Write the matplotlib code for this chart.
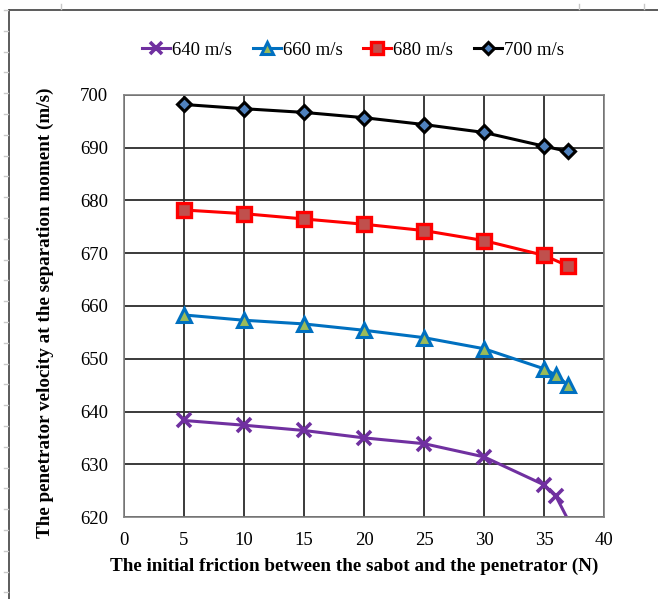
import matplotlib
matplotlib.use("Agg")
import matplotlib.pyplot as plt
from matplotlib.lines import Line2D

friction_a = [5, 10, 15, 20, 25, 30, 35, 36, 37]
friction_b = [5, 10, 15, 20, 25, 30, 35, 37]

v640 = [638.3, 637.4, 636.4, 635.0, 633.9, 631.4, 626.1, 623.9, 619.5]
v660 = [658.3, 657.3, 656.6, 655.4, 654.0, 651.9, 648.1, 646.9, 645.0]
v680 = [678.2, 677.5, 676.5, 675.5, 674.3, 672.4, 669.6, 667.6]
v700 = [698.2, 697.4, 696.7, 695.7, 694.4, 692.9, 690.3, 689.3]

labels = ["640 m/s", "660 m/s", "680 m/s", "700 m/s"]
x_ticks = list(range(0, 41, 5))
y_ticks = list(range(620, 701, 10))
y_min, y_max = 620, 700

plt.rcParams["font.family"] = ["Liberation Serif", "DejaVu Serif"]

fig = plt.figure(figsize=(6.58, 5.99), dpi=100)
ax = fig.add_axes([124 / 658, 1 - 517 / 599, 480 / 658, 422 / 599])

# markers only where the point lies inside the value range
in_range = [i for i, v in enumerate(v640) if v >= y_min]
ax.plot(friction_a, v640, color="#7030A0", lw=2.2, marker="x", ms=10,
        mew=2.6, markevery=in_range, label=labels[0])
ax.plot(friction_a, v660, color="#0070C0", lw=2.2, marker="^", ms=10,
        mfc="#9BBB59", mec="#0070C0", mew=2.2, label=labels[1], clip_on=False)
ax.plot(friction_b, v680, color="#FF0000", lw=2.2, marker="s", ms=10,
        mfc="#C0504D", mec="#FF0000", mew=2.4, label=labels[2], clip_on=False)
ax.plot(friction_b, v700, color="#000000", lw=2.2, marker="D", ms=7.5,
        mfc="#4F81BD", mec="#000000", mew=2.2, label=labels[3], clip_on=False)

ax.set_xlim(0, 40)
ax.set_ylim(y_min, y_max)
ax.set_xticks(x_ticks)
ax.set_yticks(y_ticks)
ax.tick_params(axis="both", length=0, labelsize=13.5, colors="#000000")
ax.tick_params(axis="y", pad=11.5)
ax.tick_params(axis="x", pad=11)
ax.grid(True, color="#2b2b2b", lw=1.3)
ax.set_axisbelow(True)
for s in ax.spines.values():
    s.set_color("#808080")
    s.set_linewidth(1.2)

ax.set_xlabel("The initial friction between the sabot and the penetrator (N)",
              fontsize=13.8, fontweight="bold")
ax.xaxis.set_label_coords((354 - 124) / 480, -(558 - 517) / 422)
ax.set_ylabel("The penetrator velocity at the separation moment (m/s)",
              fontsize=13.8, fontweight="bold")
ax.yaxis.set_label_coords(-(124 - 54) / 480, (517 - 313) / 422)

handles, lbls = ax.get_legend_handles_labels()
fig.legend(handles, lbls, loc="center", bbox_to_anchor=(353 / 658, 1 - 50 / 599),
           ncol=4, frameon=False, fontsize=13.5, handlelength=1.5,
           handletextpad=0.1, columnspacing=1.1, markerscale=0.85)

# outer chart frame (left and top edges) with small ruler ticks
frame_kw = dict(transform=fig.transFigure, color="#404040", lw=1.2)
fig.add_artist(Line2D([8.5 / 658, 8.5 / 658], [0, 1 - 10 / 599], **frame_kw))
fig.add_artist(Line2D([8.5 / 658, 1], [1 - 10 / 599, 1 - 10 / 599], **frame_kw))
tick_kw = dict(transform=fig.transFigure, color="#c8c8c8", lw=1.0)
py = 10.0
while py < 599:
    fig.add_artist(Line2D([4 / 658, 8 / 658], [1 - py / 599] * 2, **tick_kw))
    py += 20.8
for px in (61, 579, 644):
    fig.add_artist(Line2D([px / 658] * 2, [1 - 4 / 599, 1 - 9 / 599], **tick_kw))

fig.savefig("out.png", dpi=100)
